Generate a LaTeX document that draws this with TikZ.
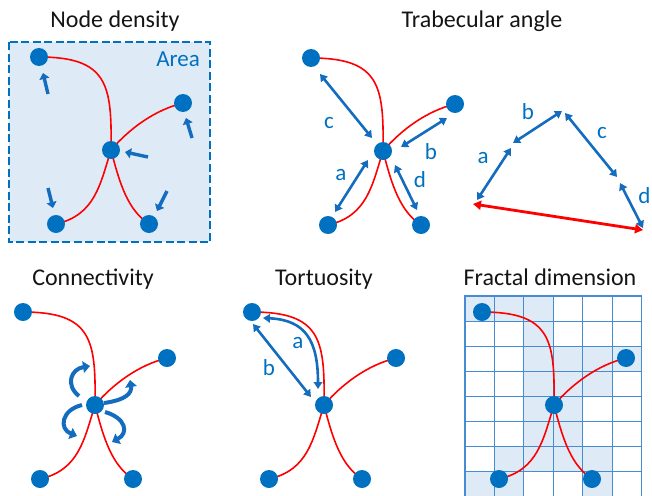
\documentclass[tikz,border=0pt]{standalone}
\usepackage{fontspec}
\setmainfont{Carlito}
\usetikzlibrary{arrows.meta}
\definecolor{nblue}{RGB}{0,112,192}
\definecolor{ablue}{RGB}{20,108,190}
\definecolor{lfill}{RGB}{222,235,247}
\definecolor{gblue}{RGB}{70,140,210}
\definecolor{lred}{RGB}{255,0,0}
\pgfdeclarelayer{back}\pgfdeclarelayer{mid}\pgfsetlayers{back,mid,main}
\tikzset{
 dot/.style={circle,fill=nblue,minimum size=18pt,inner sep=0pt},
 branch/.style={draw=lred,line width=1.6pt},
 ttl/.style={font=\fontsize{24}{28}\selectfont,text=black!92,anchor=base},
 lab/.style={font=\fontsize{23}{27}\selectfont,text=nblue},
 dbl/.style={draw=ablue,line width=2.6pt,{Triangle[length=7pt,width=8.5pt]}-{Triangle[length=7pt,width=8.5pt]}},
 dblred/.style={draw=lred,line width=2.8pt,{Triangle[length=8pt,width=9pt]}-{Triangle[length=8pt,width=9pt]}},
 sarr/.style={draw=ablue,line width=3.4pt,-{Triangle[length=6pt,width=10pt]}},
 carr/.style={draw=ablue,line width=4pt,-{Triangle[length=7pt,width=11.5pt]}},
 gridline/.style={draw=gblue,line width=1.2pt},
}
\newcommand\drawstar[3]{%
\begin{scope}[shift={(#2,#3)}]
 \node[dot] (#1tl) at (39,57) {};
 \node[dot] (#1r) at (183,103) {};
 \node[dot] (#1c) at (111,150) {};
 \node[dot] (#1bl) at (56,224) {};
 \node[dot] (#1br) at (149,224) {};
 \begin{pgfonlayer}{mid}
 \draw[branch] (#1tl.center) .. controls (108,57) and (112,85) .. (#1c.center);
 \draw[branch] (#1c.center) .. controls (130,128) and (155,110) .. (#1r.center);
 \draw[branch] (#1c.center) .. controls (100,185) and (95,215) .. (#1bl.center);
 \draw[branch] (#1c.center) .. controls (120,185) and (128,210) .. (#1br.center);
 \end{pgfonlayer}
\end{scope}}
\begin{document}
\begin{tikzpicture}[x=1pt,y=-1pt]
\useasboundingbox (0,0) rectangle (652,495);
% ---------- Node density
\node[ttl] (t1) at (115,28) {Node density};
\begin{pgfonlayer}{back}
\draw[fill=lfill,draw=nblue,line width=2pt,dash pattern=on 8pt off 3.5pt] (9,42) rectangle (210,242);
\end{pgfonlayer}
\node[lab] (area) at (178,59) {Area};
\drawstar{a}{0}{0}
\draw[sarr] (48,94) -- (43,73);
\draw[sarr] (192,138) -- (186,118);
\draw[sarr] (148,157) -- (125,152);
\draw[sarr] (48,188) -- (53,208);
\draw[sarr] (167,191) -- (157,211);
% ---------- Trabecular angle
\node[ttl] (t2) at (482,28) {Trabecular angle};
\drawstar{b}{272}{1}
\draw[dbl] (320,74) -- (372,138);
\draw[dbl] (447,118) -- (401,147);
\draw[dbl] (368,160) -- (335,212);
\draw[dbl] (395,165) -- (417,210);
\node[lab] (lc1) at (329,123) {c};
\node[lab] (lb1) at (431,152) {b};
\node[lab] (la1) at (341,175) {a};
\node[lab] (ld1) at (420,180) {d};
\draw[dbl] (477,200) -- (511,148);
\draw[dbl] (513,143) -- (562,111);
\draw[dbl] (565,113) -- (617,177);
\draw[dbl] (620,183) -- (643,228);
\draw[dblred] (473,204) -- (643,230);
\node[lab] (la2) at (483,158) {a};
\node[lab] (lb2) at (528,112) {b};
\node[lab] (lc2) at (602,133) {c};
\node[lab] (ld2) at (644.5,196) {d};
% ---------- Connectivity
\node[ttl] (t3) at (93,285) {Connectivity};
\drawstar{c}{-16}{255}
\draw[carr] (79,396) .. controls (65,385) and (71,369) .. (90,366);
\draw[carr] (104,403) .. controls (126,400) and (132,393) .. (130,380);
\draw[carr] (82,405) .. controls (61,410) and (59,429) .. (77,436);
\draw[carr] (105,412) .. controls (126,418) and (129,433) .. (112,442);
% ---------- Tortuosity
\node[ttl] (t4) at (324,285) {Tortuosity};
\drawstar{d}{213}{255}
\draw[dbl] (263,318) .. controls (305,320) and (318,340) .. (318,389);
\draw[dbl] (253,324) -- (311,397);
\node[lab] (la3) at (298,343) {a};
\node[lab] (lb3) at (269,368) {b};
% ---------- Fractal dimension
\node[ttl] (t5) at (550,285) {Fractal dimension};
\begin{pgfonlayer}{back}
\foreach \r/\c in {0/0,0/1,0/2,1/2,2/2,2/3,2/4,2/5,3/2,3/3,3/4,4/2,4/3,5/2,5/3,6/1,6/2,6/3,6/4,7/0,7/1,7/4}
 \fill[lfill] (465+\c*29.42,296+\r*25.1) rectangle ++(29.42,25.1);
\foreach \c in {0,...,6}
 \draw[gridline] (465+\c*29.42,295.4) -- (465+\c*29.42,496);
\foreach \r in {0,...,7}
 \draw[gridline] (464.4,296+\r*25.1) -- (642.1,296+\r*25.1);
\end{pgfonlayer}
\drawstar{e}{443}{255}
\end{tikzpicture}
\end{document}
